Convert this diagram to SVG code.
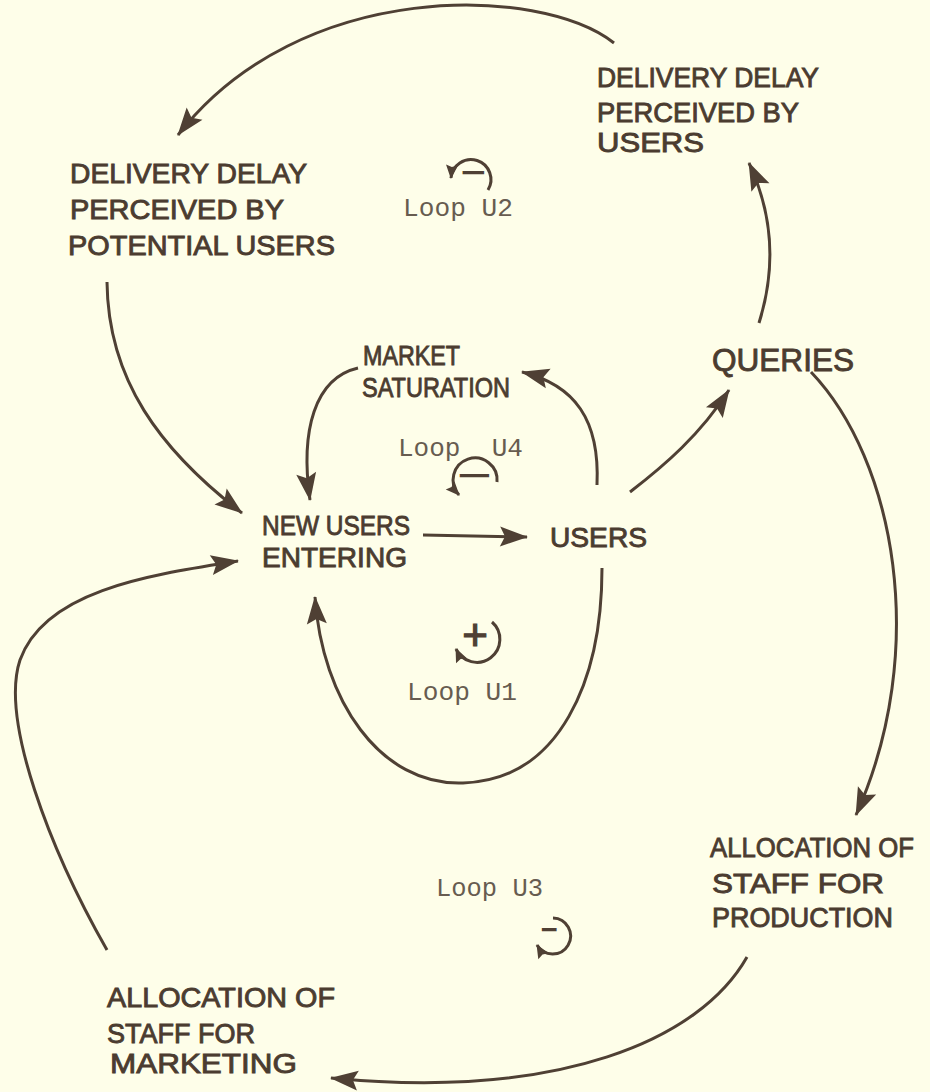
<svg xmlns="http://www.w3.org/2000/svg" width="930" height="1092" viewBox="0 0 930 1092">
  <style>
    .bg { fill: #fefee9; }
    .lbl { font-family: "Liberation Sans", "DejaVu Sans", sans-serif; font-size: 28px; fill: #4b3c30; stroke: #4b3c30; stroke-width: 0.9px; }
    .big { font-size: 32px; }
    .loop { font-family: "Liberation Mono", "DejaVu Sans Mono", monospace; font-size: 26px; fill: #675c50; }
    .link { fill: none; stroke: #4f4034; stroke-width: 3; stroke-linecap: butt; }
    .sym { fill: none; stroke: #4f4034; stroke-width: 3; }
    .sign { font-family: "Liberation Sans", "DejaVu Sans", sans-serif; fill: #4f4034; stroke: #4f4034; text-anchor: middle; }
    .minus { font-size: 16px; stroke-width: 2px; }
    .plus { font-size: 44px; stroke-width: 1.2px; }
  </style>
  <defs>
    <marker id="head" markerUnits="userSpaceOnUse" viewBox="-28 -11 30 22" refX="0" refY="0" markerWidth="30" markerHeight="22" orient="auto">
      <path d="M1,0 L-27,-10 L-22,0 L-27,10 Z" fill="#4f4034"/>
    </marker>
    <marker id="tip" markerUnits="userSpaceOnUse" viewBox="-14 -7 16 14" refX="0" refY="0" markerWidth="16" markerHeight="14" orient="auto">
      <path d="M1,0 L-13,-6 L-11,0 L-13,6 Z" fill="#4f4034"/>
    </marker>
  </defs>

  <rect class="bg" x="0" y="0" width="930" height="1092"/>

  <!-- causal links -->
  <g id="connectors">
    <path class="link" d="M614,43 C540,-15 300,-22 178,135" marker-end="url(#head)"/>
    <path class="link" d="M107,282 C108,380 160,450 242,513" marker-end="url(#head)"/>
    <path class="link" d="M759,323 Q785,240 749,163" marker-end="url(#head)"/>
    <path class="link" d="M358,368 C315,378 300,430 310,500" marker-end="url(#head)"/>
    <path class="link" d="M597,485 C600,420 575,385 522,372" marker-end="url(#head)"/>
    <path class="link" d="M423,535 L527,537" marker-end="url(#head)"/>
    <path class="link" d="M630,492 C665,465 700,435 729,390" marker-end="url(#head)"/>
    <path class="link" d="M602,568 C602,680 560,780 463,783 C380,786 322,700 315,597" marker-end="url(#head)"/>
    <path class="link" d="M811,372 C895,460 930,650 856,815" marker-end="url(#head)"/>
    <path class="link" d="M747,957 C700,1040 560,1100 331,1078" marker-end="url(#head)"/>
    <path class="link" d="M107,950 C50,850 0,720 20,660 C45,590 150,575 238,561" marker-end="url(#head)"/>
  </g>

  <!-- variables -->
  <g id="delay-users">
    <text class="lbl" x="597" y="87" textLength="222" lengthAdjust="spacingAndGlyphs">DELIVERY DELAY</text>
    <text class="lbl" x="597" y="122" textLength="202" lengthAdjust="spacingAndGlyphs">PERCEIVED BY</text>
    <text class="lbl" x="597" y="152" textLength="107" lengthAdjust="spacingAndGlyphs">USERS</text>
  </g>
  <g id="delay-potential-users">
    <text class="lbl" x="70" y="183" textLength="237" lengthAdjust="spacingAndGlyphs">DELIVERY DELAY</text>
    <text class="lbl" x="70" y="219" textLength="214" lengthAdjust="spacingAndGlyphs">PERCEIVED BY</text>
    <text class="lbl" x="68" y="255" textLength="267" lengthAdjust="spacingAndGlyphs">POTENTIAL USERS</text>
  </g>
  <g id="market-saturation">
    <text class="lbl" x="363" y="365" textLength="97" lengthAdjust="spacingAndGlyphs">MARKET</text>
    <text class="lbl" x="362" y="397" textLength="148" lengthAdjust="spacingAndGlyphs">SATURATION</text>
  </g>
  <g id="queries">
    <text class="lbl big" x="712" y="371" textLength="142" lengthAdjust="spacingAndGlyphs">QUERIES</text>
  </g>
  <g id="new-users-entering">
    <text class="lbl" x="262" y="535" textLength="148" lengthAdjust="spacingAndGlyphs">NEW USERS</text>
    <text class="lbl" x="262" y="567" textLength="145" lengthAdjust="spacingAndGlyphs">ENTERING</text>
  </g>
  <g id="users">
    <text class="lbl" x="550" y="547" textLength="97" lengthAdjust="spacingAndGlyphs">USERS</text>
  </g>
  <g id="staff-production">
    <text class="lbl" x="710" y="857" textLength="204" lengthAdjust="spacingAndGlyphs">ALLOCATION OF</text>
    <text class="lbl" x="712" y="893" textLength="172" lengthAdjust="spacingAndGlyphs">STAFF FOR</text>
    <text class="lbl" x="712" y="927" textLength="181" lengthAdjust="spacingAndGlyphs">PRODUCTION</text>
  </g>
  <g id="staff-marketing">
    <text class="lbl" x="107" y="1007" textLength="228" lengthAdjust="spacingAndGlyphs">ALLOCATION OF</text>
    <text class="lbl" x="107" y="1043" textLength="148" lengthAdjust="spacingAndGlyphs">STAFF FOR</text>
    <text class="lbl" x="110" y="1073" textLength="187" lengthAdjust="spacingAndGlyphs">MARKETING</text>
  </g>

  <!-- loop polarity marks -->
  <g id="loop-u2">
    <path class="sym" d="M488,190 A20,20 0 1 0 451,178" marker-end="url(#tip)"/>
    <text class="sign minus" transform="translate(473,172) scale(2.2,1)" x="0" y="5.8">−</text>
    <text class="loop" x="403" y="216" textLength="110" lengthAdjust="spacingAndGlyphs">Loop U2</text>
  </g>
  <g id="loop-u4">
    <path class="sym" d="M497,482 A22,22 0 1 0 459,495" marker-end="url(#tip)"/>
    <text class="sign minus" transform="translate(474,475) scale(3,1)" x="0" y="5.8">−</text>
    <text class="loop" x="398" y="456" xml:space="preserve" textLength="125" lengthAdjust="spacingAndGlyphs">Loop  U4</text>
  </g>
  <g id="loop-u1">
    <path class="sym" d="M492,622 A23,23 0 1 1 456,649" marker-end="url(#tip)"/>
    <text class="sign plus" x="475" y="650">+</text>
    <text class="loop" x="407" y="700" textLength="110" lengthAdjust="spacingAndGlyphs">Loop U1</text>
  </g>
  <g id="loop-u3">
    <path class="sym" d="M553,918 A18,18 0 1 1 537,945" marker-end="url(#tip)"/>
    <text class="sign minus" transform="translate(549,929) scale(1.5,1)" x="0" y="5.8">−</text>
    <text class="loop" x="436" y="896" textLength="107" lengthAdjust="spacingAndGlyphs">Loop U3</text>
  </g>
</svg>
